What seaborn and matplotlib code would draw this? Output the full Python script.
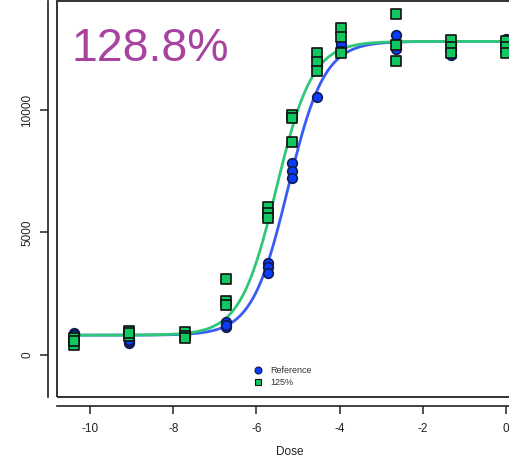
import numpy as np
import pandas as pd
import matplotlib
matplotlib.use("Agg")
import matplotlib.pyplot as plt
from matplotlib.patches import Rectangle
from matplotlib.lines import Line2D
import seaborn as sns

# ---------------- data ----------------
doses = [-10.38, -9.06, -7.72, -6.73, -5.73, -5.14, -4.55, -3.97, -2.65, -1.33, 0.0]
ref_rep1 = [900, 500, 880, 1360, 3750, 7820, 10540, 12560, 13070, 12240, 12900]
ref_rep2 = [840, 560, 800, 1140, 3600, 7520, 11800, 12700, 12700, 12500, 12600]
ref_rep3 = [800, 620, 740, 1220, 3350, 7240, 12000, 12400, 12500, 12700, 12400]
s125_rep1 = [700, 1000, 950, 3100, 6040, 9800, 12310, 13360, 13900, 12860, 12800]
s125_rep2 = [410, 780, 780, 2220, 5800, 9660, 11970, 12960, 12650, 12580, 12560]
s125_rep3 = [560, 900, 700, 2040, 5590, 8700, 11590, 12310, 12000, 12310, 12310]

# 4PL fit parameters
fit_bottom = 810
fit_top = 12800
fit_hill = 2.3
ref_ec50 = -5.24
s125_ec50 = -5.52

series_names = ["Reference", "125%"]
potency_label = "128.8%"
x_ticks = [-10, -8, -6, -4, -2, 0]
x_tick_labels = ["-10", "-8", "-6", "-4", "-2", "0"]
y_ticks = [0, 5000, 10000]
y_tick_labels = ["0", "5000", "10000"]

# ---------------- build tables ----------------
rows = []
for name, reps in [("Reference", [ref_rep1, ref_rep2, ref_rep3]),
                   ("125%", [s125_rep1, s125_rep2, s125_rep3])]:
    for rep in reps:
        for d, v in zip(doses, rep):
            rows.append({"Dose": d, "Response": v, "Sample": name})
df = pd.DataFrame(rows)

def four_pl(x, ec50):
    return fit_bottom + (fit_top - fit_bottom) / (1.0 + np.exp(-fit_hill * (x - ec50)))

xs = np.linspace(doses[0], 0.4, 400)
curves = pd.concat([
    pd.DataFrame({"Dose": xs, "Response": four_pl(xs, ref_ec50), "Sample": "Reference"}),
    pd.DataFrame({"Dose": xs, "Response": four_pl(xs, s125_ec50), "Sample": "125%"}),
])

# ---------------- style ----------------
sns.set_style("ticks")
plt.rcParams["font.family"] = ["Liberation Sans", "DejaVu Sans"]

W, H = 510, 459
fig = plt.figure(figsize=(W / 100, H / 100), dpi=100)
left_px, right_px, top_px, bottom_px = 57, 540, 1, 397
ax = fig.add_axes([left_px / W, 1 - bottom_px / H,
                   (right_px - left_px) / W, (bottom_px - top_px) / H])

# pixel mapping: x=-10 -> 90 px, 41.6 px / unit ; y=0 -> 355 px, 0.0245 px / unit
px_per_x = 41.6
px_per_y = 0.0245
xmin = -10 + (left_px - 90) / px_per_x
xmax = -10 + (right_px - 90) / px_per_x
ymin = (355 - bottom_px) / px_per_y
ymax = (355 - top_px) / px_per_y

line_colors = {"Reference": "#3a5cf5", "125%": "#2fc878"}
fill_colors = {"Reference": "#0a3cff", "125%": "#10c860"}
edge_colors = {"Reference": "#101a50", "125%": "#111111"}
markers = {"Reference": "o", "125%": "s"}

for name in series_names:
    sns.lineplot(data=curves[curves.Sample == name], x="Dose", y="Response",
                 color=line_colors[name], lw=2.0, ax=ax, zorder=2, legend=False,
                 estimator=None, sort=False)
for name in series_names:
    sns.scatterplot(data=df[df.Sample == name], x="Dose", y="Response",
                    marker=markers[name], color=fill_colors[name],
                    edgecolor=edge_colors[name], linewidth=1.2,
                    s=48 if name == "Reference" else 44, ax=ax, zorder=3, legend=False)

ax.set_xlim(xmin, xmax)
ax.set_ylim(ymin, ymax)
ax.set_xticks(x_ticks)
ax.set_xticklabels(x_tick_labels)
ax.set_yticks(y_ticks)
ax.set_yticklabels(y_tick_labels)

for sp in ["top", "right"]:
    ax.spines[sp].set_visible(False)
for sp in ["left", "bottom"]:
    ax.spines[sp].set_position(("outward", 6.5))
    ax.spines[sp].set_color("#222222")
    ax.spines[sp].set_linewidth(1.2)

ax.add_patch(Rectangle((0, 0), 1, 1, transform=ax.transAxes, fill=False,
                       lw=1.3, ec="#222222", clip_on=False, zorder=5))

ax.tick_params(axis="both", direction="out", length=5.5, width=1.1,
               color="#222222", labelsize=8.5, labelcolor="#222222",
               bottom=True, left=True, top=False, right=False)
ax.tick_params(axis="x", pad=7)
ax.tick_params(axis="y", pad=5, labelrotation=90)
for lab in ax.get_yticklabels():
    lab.set_va("center")
    lab.set_rotation(90)

ax.set_xlabel("Dose", fontsize=8.5, color="#222222")
ax.set_ylabel("")
ax.xaxis.set_label_coords((290 - left_px) / (right_px - left_px),
                          (bottom_px - 452) / (bottom_px - top_px))
ax.xaxis.label.set_va("center")

handles = [
    Line2D([], [], ls="none", marker="o", markersize=5, markerfacecolor=fill_colors["Reference"],
           markeredgecolor=edge_colors["Reference"], markeredgewidth=0.8),
    Line2D([], [], ls="none", marker="s", markersize=4.5, markerfacecolor=fill_colors["125%"],
           markeredgecolor=edge_colors["125%"], markeredgewidth=0.8),
]
ax.legend(handles, series_names, loc="upper left",
          bbox_to_anchor=(253 / W, 1 - 366 / H), bbox_transform=fig.transFigure,
          frameon=False, fontsize=6.5, handlelength=1.0, handletextpad=0.9,
          borderpad=0, borderaxespad=0, labelspacing=0.35, labelcolor="#333333")

fig.text(72 / W, 1 - 61 / H, potency_label, fontsize=33.5, color="#a8449f",
         ha="left", va="baseline")

fig.savefig("out.png", dpi=100)
